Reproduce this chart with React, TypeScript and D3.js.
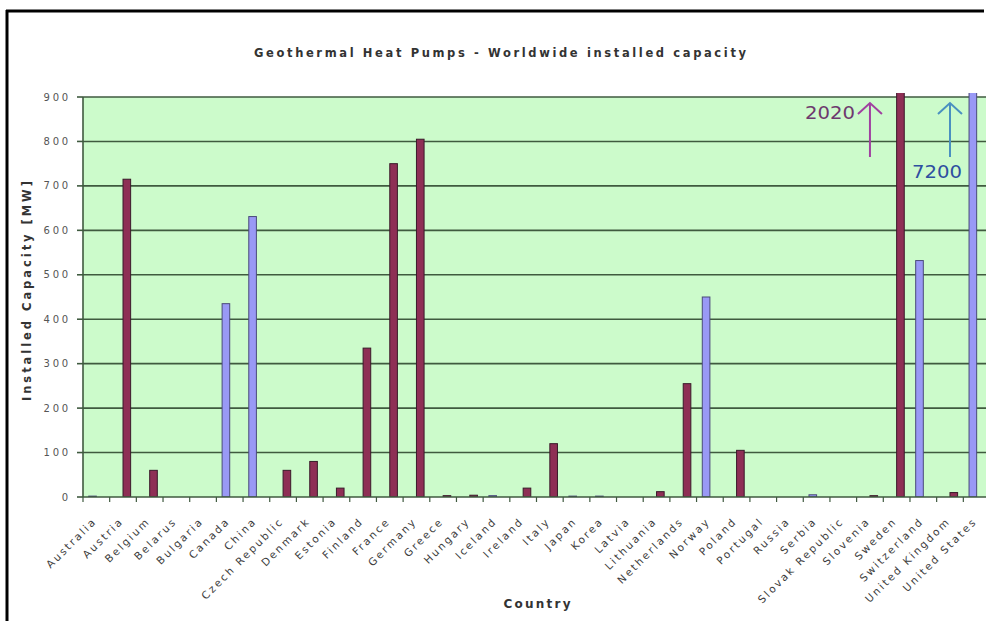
import React from "react";
import * as d3 from "d3";

const countries = [
  "Australia", "Austria", "Belgium", "Belarus", "Bulgaria", "Canada", "China",
  "Czech Republic", "Denmark", "Estonia", "Finland", "France", "Germany", "Greece",
  "Hungary", "Iceland", "Ireland", "Italy", "Japan", "Korea", "Latvia", "Lithuania",
  "Netherlands", "Norway", "Poland", "Portugal", "Russia", "Serbia", "Slovak Republic",
  "Slovenia", "Sweden", "Switzerland", "United Kingdom", "United States",
];
// blue series (left bar of each pair)
const nonEuValues = [2, 0, 0, 0, 0, 435, 631, 0, 0, 0, 0, 0, 0, 0, 0, 3, 0, 0, 2, 2, 0, 0, 0, 450, 0, 0, 0, 5, 0, 0, 0, 532, 0, 7200];
// maroon series (right bar of each pair)
const euValues = [0, 715, 60, 0, 0, 0, 0, 60, 80, 20, 335, 750, 805, 3, 4, 0, 20, 120, 0, 0, 0, 12, 255, 0, 105, 0, 0, 0, 0, 3, 2020, 0, 10, 0];
const yTicks = [0, 100, 200, 300, 400, 500, 600, 700, 800, 900];
const seriesKeys = ["nonEu", "eu"];
const offChart = [
  { country: "Sweden", label: "2020" },
  { country: "United States", label: "7200" },
];

const W = 986;
const H = 621;
const margin = { top: 97, right: -4, bottom: 124, left: 83 };
const font = "'DejaVu Sans', Verdana, sans-serif";

const App = () => {
  const innerW = W - margin.left - margin.right;
  const innerH = H - margin.top - margin.bottom;

  const x = d3.scaleBand().domain(countries).range([0, innerW]).paddingInner(0).paddingOuter(0);
  const xSub = d3.scaleBand().domain(seriesKeys).range([0, x.bandwidth()]).paddingInner(0).paddingOuter(0.75);
  const y = d3.scaleLinear().domain([0, 900]).range([innerH, 0]);

  const colors: any = { nonEu: "#9999f5", eu: "#8e2f55" };
  const strokes: any = { nonEu: "#4a4a7a", eu: "#3a1a2a" };
  const values: any = { nonEu: nonEuValues, eu: euValues };
  const grid = "#3f5a3f";

  const arrowColors = [
    { arrow: "#a040a0", text: "#6e3a6e" },
    { arrow: "#4a90c0", text: "#2e4fa0" },
  ];

  return (
    <div style={{ position: "absolute", left: 0, top: 0 }}>
      <svg width={W} height={H} style={{ display: "block", background: "#fff" }}>
        <defs>
          <clipPath id="plotClip">
            <rect x={0} y={-4} width={innerW} height={innerH + 4} />
          </clipPath>
        </defs>

        {/* outer frame */}
        <line x1={6} x2={984} y1={11} y2={11} stroke="#000" strokeWidth={3} />
        <line x1={7} x2={7} y1={10} y2={H} stroke="#000" strokeWidth={3} />

        <text x={500} y={57} textAnchor="middle" fontFamily={font} fontWeight="bold"
          fontSize={11.5} fill="#333" textLength={492} lengthAdjust="spacing">
          Geothermal Heat Pumps - Worldwide installed capacity
        </text>

        <g transform={`translate(${margin.left},${margin.top})`}>
          <rect x={0} y={0} width={innerW} height={innerH} fill="#ccfbcb" />

          {yTicks.filter(t => t > 0).map(t => (
            <line key={"g" + t} x1={0} x2={innerW} y1={y(t)} y2={y(t)} stroke={grid} strokeWidth={1.6} />
          ))}

          <g clipPath="url(#plotClip)">
            {seriesKeys.map(k =>
              countries.map((c, i) => {
                const v = values[k][i];
                if (!v) return null;
                return (
                  <rect key={k + c} x={(x(c) as number) + (xSub(k) as number)} y={y(v)}
                    width={xSub.bandwidth()} height={innerH - y(v)}
                    fill={colors[k]} stroke={strokes[k]} strokeWidth={1} />
                );
              })
            )}
          </g>

          {/* axes */}
          <line x1={0} x2={0} y1={0} y2={innerH} stroke={grid} strokeWidth={1.6} />
          <line x1={0} x2={innerW} y1={innerH} y2={innerH} stroke={grid} strokeWidth={1.6} />
          {yTicks.map(t => (
            <g key={"t" + t}>
              <line x1={-6} x2={0} y1={y(t)} y2={y(t)} stroke={grid} strokeWidth={1.6} />
              <text x={-12} y={y(t)} dy="0.35em" textAnchor="end" fontFamily={font}
                fontSize={10} fill="#555" style={{ letterSpacing: "2.8px" }}>
                {t}
              </text>
            </g>
          ))}
          {countries.map(c => (
            <line key={"xt" + c} x1={x(c) as number} x2={x(c) as number} y1={innerH} y2={innerH + 5}
              stroke={grid} strokeWidth={1.2} />
          ))}
          {countries.map(c => {
            const cx = (x(c) as number) + x.bandwidth() / 2;
            return (
              <text key={"xl" + c} transform={`translate(${cx + 1},${innerH + 25}) rotate(-45)`}
                textAnchor="end" fontFamily={font} fontSize={10.5} fill="#3c3c3c"
                style={{ letterSpacing: "2.2px" }}>
                {c}
              </text>
            );
          })}

          {/* values beyond the axis */}
          {offChart.map((o, i) => {
            const idx = countries.indexOf(o.country);
            const ax = (x(countries[idx - 1]) as number) + x.bandwidth() / 2;
            const top = y(900) + 6;
            const bottom = y(765);
            const col = arrowColors[i];
            return (
              <g key={o.label}>
                <line x1={ax} x2={ax} y1={top} y2={bottom} stroke={col.arrow} strokeWidth={2} />
                <polyline points={`${ax - 12},${top + 11} ${ax},${top} ${ax + 12},${top + 11}`}
                  fill="none" stroke={col.arrow} strokeWidth={2} />
                {i === 0 ? (
                  <text x={ax - 15} y={top + 16} textAnchor="end" fontFamily={font}
                    fontSize={17} fill={col.text} textLength={50} lengthAdjust="spacingAndGlyphs">{o.label}</text>
                ) : (
                  <text x={ax - 13} y={bottom + 21} textAnchor="middle" fontFamily={font}
                    fontSize={17} fill={col.text} textLength={50} lengthAdjust="spacingAndGlyphs">{o.label}</text>
                )}
              </g>
            );
          })}
        </g>

        <text transform={`translate(31,${margin.top + innerH / 2 - 6}) rotate(-90)`} textAnchor="middle"
          fontFamily={font} fontWeight="bold" fontSize={11.5} fill="#333"
          textLength={220} lengthAdjust="spacing">
          Installed Capacity [MW]
        </text>
        <text x={537} y={608} textAnchor="middle" fontFamily={font} fontWeight="bold"
          fontSize={12} fill="#333" textLength={67} lengthAdjust="spacing">
          Country
        </text>
      </svg>
    </div>
  );
};

export default App;
